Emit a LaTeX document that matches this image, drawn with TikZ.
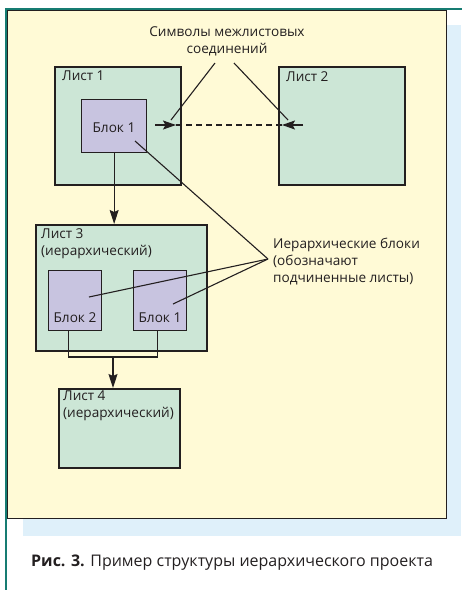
\documentclass[tikz,border=0pt]{standalone}
\usepackage{fontspec}
\setmainfont{Open Sans}
\usetikzlibrary{arrows.meta}

\definecolor{panelyellow}{RGB}{255,250,214}
\definecolor{shadowblue}{RGB}{223,240,250}
\definecolor{frameteal}{RGB}{22,124,114}
\definecolor{sheetgreen}{RGB}{204,230,214}
\definecolor{blockviolet}{RGB}{200,196,224}
\definecolor{linedark}{RGB}{35,31,32}

\begin{document}
\begin{tikzpicture}[x=1pt, y=-1pt,
  every node/.style={font=\fontsize{13.6}{17}\selectfont, text=linedark},
  sheet/.style={draw=linedark, line width=1.7pt, fill=sheetgreen, anchor=north west, inner sep=0pt},
  block/.style={draw=linedark, line width=1.3pt, fill=blockviolet, anchor=north west, inner sep=0pt},
  title/.style={anchor=north west, align=left, inner sep=0pt},
  pointer/.style={draw=linedark, line width=1.1pt},
  flowarrow/.style={draw=linedark, line width=1.1pt, -{Stealth[length=14pt, width=9pt, inset=2pt]}},
  linkarrow/.style={draw=linedark, line width=1.3pt, -{Stealth[length=13pt, width=9pt, inset=2.5pt]}}]

  \useasboundingbox (0,0) rectangle (462,590);

  %%%%%%%%%%%%%%%%%%%%%%%%%%%%%%
  % Page panel and frame       %
  %%%%%%%%%%%%%%%%%%%%%%%%%%%%%%
  \fill[shadowblue] (23,25) rectangle (461,536);
  \filldraw[fill=panelyellow, draw=linedark, line width=0.8pt] (7,10) rectangle (446,518);
  \draw[frameteal, line width=2.5pt] (6,590) -- (6,9) -- (462,9);

  %%%%%%%%%%%%%%%%%%%%%%%%%%%%%%
  % Sheets and blocks          %
  %%%%%%%%%%%%%%%%%%%%%%%%%%%%%%
  \node[sheet, minimum width=126pt, minimum height=118pt] (sheet1) at (54,66) {};
  \node[sheet, minimum width=126pt, minimum height=118pt] (sheet2) at (278,66) {};
  \node[sheet, minimum width=171pt, minimum height=126pt] (sheet3) at (35,224) {};
  \node[sheet, minimum width=121pt, minimum height=79pt] (sheet4) at (58,388) {};

  \node[title] (sheet1title) at (62,71) {Лист 1};
  \node[title] (sheet2title) at (286,71) {Лист 2};
  \node[title] (sheet3title) at (41,228) {Лист 3\\(иерархический)};
  \node[title] (sheet4title) at (63,391) {Лист 4\\(иерархический)};

  % Block on sheet 1
  \node[block, minimum width=65pt, minimum height=53pt] (block1) at (81,99) {};
  \node (block1text) at (114,128) {Блок 1};

  % Hierarchical blocks on sheet 3
  \node[block, minimum width=53pt, minimum height=60pt] (hblock2) at (48,270) {};
  \node[block, minimum width=53pt, minimum height=60pt] (hblock1) at (133,270) {};
  \node (hblock2text) at (75,318) {Блок 2};
  \node (hblock1text) at (160,318) {Блок 1};

  %%%%%%%%%%%%%%%%%%%%%%%%%%%%%%
  % Off-sheet connector        %
  %%%%%%%%%%%%%%%%%%%%%%%%%%%%%%
  \coordinate (stubL) at (155,125);
  \coordinate (tipL) at (176,125);
  \coordinate (tipR) at (282,125);
  \coordinate (stubR) at (303,125);
  \draw[linkarrow] (stubL) -- (tipL);
  \draw[linkarrow] (stubR) -- (tipR);
  \draw[draw=linedark, line width=1.2pt, dash pattern=on 6pt off 4pt] (tipL) -- (tipR);

  %%%%%%%%%%%%%%%%%%%%%%%%%%%%%%
  % Hierarchy arrows           %
  %%%%%%%%%%%%%%%%%%%%%%%%%%%%%%
  \draw[flowarrow] (block1.south) -- (block1.south |- sheet3.north);
  \coordinate (join) at (113,357);
  \draw[pointer] ([xshift=-6.5pt]hblock2.south) |- (join) -| ([xshift=-2.5pt]hblock1.south);
  \draw[flowarrow] (join) -- (join |- sheet4.north);

  %%%%%%%%%%%%%%%%%%%%%%%%%%%%%%
  % Callouts                   %
  %%%%%%%%%%%%%%%%%%%%%%%%%%%%%%
  \node[align=center, inner sep=0pt] (conntext) at (227,41) {Символы межлистовых\\соединений};
  \coordinate (connA) at (215,63);
  \coordinate (connB) at (234,63);
  \draw[pointer] (connA) -- (171,120);
  \draw[pointer] (connB) -- (288,120);

  \node[align=left, inner sep=0pt, anchor=west] (hiertext) at (273,262)
        {Иерархические блоки\\(обозначают\\подчиненные листы)};
  \coordinate (hierpt) at (268,259);
  \coordinate (block1pt) at (135,141);
  \coordinate (hblock2pt) at (89,297);
  \coordinate (hblock1pt) at (173,304);
  \draw[pointer] (block1pt) -- (hierpt);
  \draw[pointer] (hblock2pt) -- (hierpt);
  \draw[pointer] (hblock1pt) -- (hierpt);

  %%%%%%%%%%%%%%%%%%%%%%%%%%%%%%
  % Figure caption             %
  %%%%%%%%%%%%%%%%%%%%%%%%%%%%%%
  \node[anchor=base west, inner sep=0pt, font=\fontsize{16}{19}\selectfont] (caption) at (31,566)
        {\textbf{Рис. 3.} Пример структуры иерархического проекта};

\end{tikzpicture}
\end{document}
